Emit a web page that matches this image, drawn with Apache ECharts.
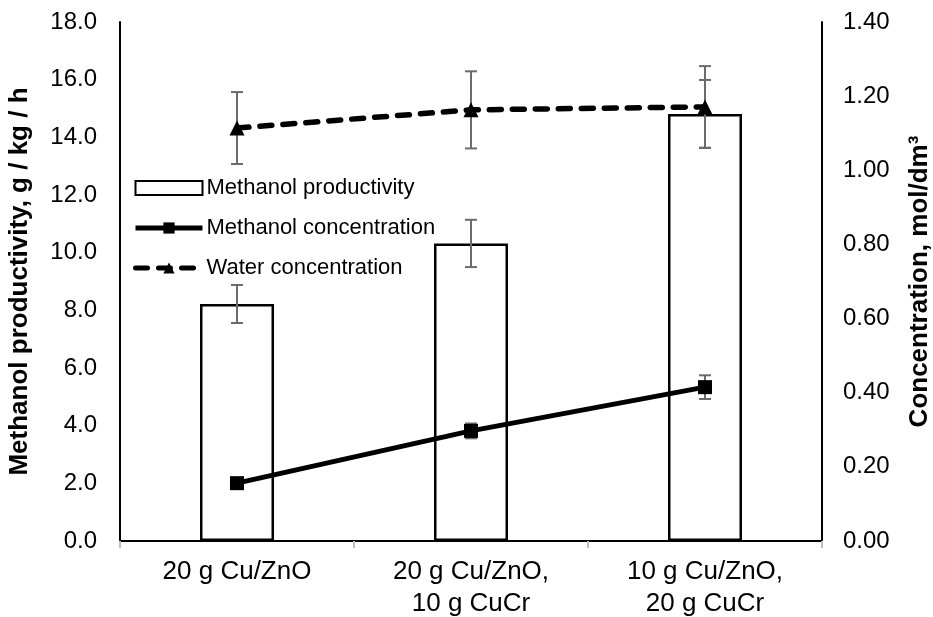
<!DOCTYPE html>
<html>
<head>
<meta charset="utf-8">
<script src="https://cdn.jsdelivr.net/npm/echarts@6/dist/echarts.min.js"></script>
<style>
  html, body { margin: 0; padding: 0; background: #fff; }
  #chart1 { width: 933px; height: 617px; }
</style>
</head>
<body>
<div id="chart1"></div>
<script>
// 类别
var categories = ['20 g Cu/ZnO', '20 g Cu/ZnO,\n10 g CuCr', '10 g Cu/ZnO,\n20 g CuCr'];
// 柱状图 (左轴)
var productivity = [8.22, 10.32, 14.81];
var productivityErr = [0.66, 0.82, 1.18];
// 折线 (右轴)
var methanolConc = [0.156, 0.297, 0.415];
var methanolConcErr = [0.005, 0.02, 0.032];
var waterConc = [1.114, 1.163, 1.171];
var waterConcErr = [0.097, 0.104, 0.11];

var FONT = 'Liberation Sans, Arial, sans-serif';

function errData(vals, errs) {
    return vals.map(function (v, i) { return [i, v, errs[i]]; });
}

// 误差线
function renderErr(params, api) {
    var x = api.value(0);
    var v = api.value(1);
    var e = api.value(2);
    var hi = api.coord([x, v + e]);
    var lo = api.coord([x, v - e]);
    var w = 6;
    var style = { stroke: '#6b6b6b', lineWidth: 2 };
    return {
        type: 'group',
        children: [
            { type: 'line', shape: { x1: hi[0], y1: hi[1], x2: lo[0], y2: lo[1] }, style: style },
            { type: 'line', shape: { x1: hi[0] - w, y1: hi[1], x2: hi[0] + w, y2: hi[1] }, style: style },
            { type: 'line', shape: { x1: lo[0] - w, y1: lo[1], x2: lo[0] + w, y2: lo[1] }, style: style }
        ]
    };
}

var myChart = echarts.init(document.getElementById('chart1'));
myChart.setOption({
    animation: false,
    textStyle: { fontFamily: FONT },
    grid: { left: 120, right: 111, top: 22, bottom: 76, containLabel: false, outerBoundsMode: 'none' },
    // 图例
    legend: {
        data: [
            { name: 'Methanol productivity', icon: 'rect', itemStyle: { color: '#fff', borderColor: '#000', borderWidth: 2 } },
            { name: 'Methanol concentration', lineStyle: { width: 5 } },
            { name: 'Water concentration', lineStyle: { width: 5 } }
        ],
        orient: 'vertical',
        left: 133,
        top: 177,
        padding: 0,
        itemWidth: 67,
        itemHeight: 14,
        itemGap: 18,
        textStyle: { fontFamily: FONT, fontSize: 22, color: '#000', padding: [0, 0, 0, -1] }
    },
    // x轴
    xAxis: [{
        type: 'category',
        data: categories,
        position: 'bottom',
        axisLine: { lineStyle: { color: '#c0c0c0', width: 2 } },
        axisTick: { show: true, length: 7, lineStyle: { color: '#c0c0c0', width: 2 } },
        axisLabel: { color: '#000', fontSize: 26, fontFamily: FONT, margin: 15, lineHeight: 32 }
    }, {
        type: 'category',
        data: categories,
        position: 'top',
        axisLine: { lineStyle: { color: '#000', width: 2 } },
        axisTick: { show: false },
        axisLabel: { show: false }
    }],
    // y轴
    yAxis: [{
        type: 'value',
        min: 0, max: 18, interval: 2,
        name: 'Methanol productivity, g / kg / h',
        nameLocation: 'middle',
        nameGap: 87,
        nameTextStyle: { color: '#000', fontSize: 26, fontWeight: 'bold', fontFamily: FONT },
        axisLine: { show: true, lineStyle: { color: '#000', width: 2 } },
        axisTick: { show: false },
        splitLine: { show: false },
        axisLabel: {
            color: '#000', fontSize: 24, fontFamily: FONT, margin: 23,
            formatter: function (v) { return v.toFixed(1); }
        }
    }, {
        type: 'value',
        min: 0, max: 1.4, interval: 0.2,
        position: 'right',
        name: 'Concentration, mol/dm³',
        nameLocation: 'middle',
        nameGap: 85,
        nameTextStyle: { color: '#000', fontSize: 26, fontWeight: 'bold', fontFamily: FONT },
        axisLine: { show: true, lineStyle: { color: '#000', width: 2 } },
        axisTick: { show: false },
        splitLine: { show: false },
        axisLabel: {
            color: '#000', fontSize: 24, fontFamily: FONT, margin: 21,
            formatter: function (v) { return v.toFixed(2); }
        }
    }],
    // 数据
    series: [{
        name: 'Methanol productivity',
        type: 'bar',
        yAxisIndex: 0,
        barWidth: 74,
        data: productivity,
        itemStyle: { color: '#fff', borderColor: '#000', borderWidth: 2.5 }
    }, {
        name: 'prodErr',
        type: 'custom',
        yAxisIndex: 0,
        renderItem: renderErr,
        data: errData(productivity, productivityErr),
        z: 3
    }, {
        name: 'Methanol concentration',
        type: 'line',
        yAxisIndex: 1,
        data: methanolConc,
        symbol: 'rect',
        symbolSize: 14,
        lineStyle: { color: '#000', width: 5 },
        itemStyle: { color: '#000' },
        z: 4
    }, {
        name: 'mcErr',
        type: 'custom',
        yAxisIndex: 1,
        renderItem: renderErr,
        data: errData(methanolConc, methanolConcErr),
        z: 3
    }, {
        name: 'Water concentration',
        type: 'line',
        yAxisIndex: 1,
        data: waterConc,
        symbol: 'triangle',
        symbolSize: 15,
        lineStyle: { color: '#000', width: 5.5, type: [12, 11], cap: 'round' },
        itemStyle: { color: '#000' },
        z: 4
    }, {
        name: 'wErr',
        type: 'custom',
        yAxisIndex: 1,
        renderItem: renderErr,
        data: errData(waterConc, waterConcErr),
        z: 3
    }]
});
</script>
</body>
</html>
